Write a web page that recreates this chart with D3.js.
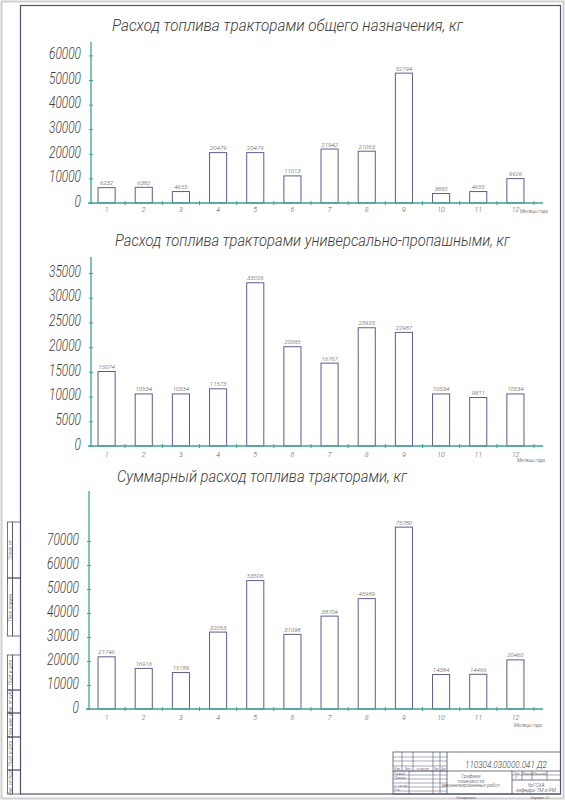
<!DOCTYPE html>
<html>
<head>
<meta charset="utf-8">
<script src="https://cdn.jsdelivr.net/npm/d3@7"></script>
<style>
  body { margin: 0; background: #fff; }
  svg text { font-family: "Liberation Sans Narrow", Roboto, "DejaVu Sans Condensed", sans-serif; font-style: italic; font-weight: 300; fill: #3a3a3a; }
</style>
</head>
<body>
<svg id="sheet" width="565" height="800"></svg>
<script>
// месяцы года
var months = ["1", "2", "3", "4", "5", "6", "7", "8", "9", "10", "11", "12"];

// расход топлива, кг (подписи над столбцами)
var generalFuel   = [6232, 6382, 4655, 20479, 20479, 11013, 21942, 21063, 52794, 3850, 4655, 9926];
var universalFuel = [15074, 10534, 10534, 11573, 33026, 20085, 16767, 23925, 22987, 10534, 9811, 10534];
var totalFuel     = [21746, 16916, 15189, 32053, 53506, 31098, 38704, 45989, 75780, 14384, 14466, 20460];

// деления осей
var generalTicks   = [0, 10000, 20000, 30000, 40000, 50000, 60000];
var universalTicks = [0, 5000, 10000, 15000, 20000, 25000, 30000, 35000];
var totalTicks     = [0, 10000, 20000, 30000, 40000, 50000, 60000, 70000];

var axisColor = "#3aa596";
var barColor = "#5d5d92";
var frameColor = "#4f5270";

var svg = d3.select("#sheet");

// рамка листа
svg.append("rect").attr("x", 1.5).attr("y", 1.5).attr("width", 562).attr("height", 797)
  .attr("fill", "none").attr("stroke", "#cfcfcf").attr("stroke-width", 2);
svg.append("rect").attr("x", 20.5).attr("y", 5.5).attr("width", 540).attr("height", 788.5)
  .attr("fill", "none").attr("stroke", frameColor).attr("stroke-width", 1.2);

function drawChart(c) {
  var g = svg.append("g");

  var x = d3.scaleBand().domain(months).range([88, 534]).paddingInner(0.54).paddingOuter(0.27);
  var y = d3.scaleLinear().domain([0, d3.max(c.ticks)]).range([c.base, c.top]);

  // заголовок
  g.append("text")
    .attr("x", c.titleX).attr("y", c.titleY)
    .attr("textLength", c.titleLen).attr("lengthAdjust", "spacingAndGlyphs")
    .style("font-size", "17px")
    .text(c.title);

  // столбцы
  g.selectAll("rect.bar").data(c.values).enter().append("rect")
    .attr("class", "bar")
    .attr("x", function(d, i) { return x(months[i]); })
    .attr("y", function(d) { return y(d); })
    .attr("width", x.bandwidth())
    .attr("height", function(d) { return c.base - y(d); })
    .attr("fill", "#fff")
    .attr("stroke", barColor)
    .attr("stroke-width", 1);

  g.selectAll("text.val").data(c.values).enter().append("text")
    .attr("class", "val")
    .attr("x", function(d, i) { return x(months[i]) + x.bandwidth() / 2; })
    .attr("y", function(d) { return y(d) - 2.5; })
    .attr("text-anchor", "middle")
    .attr("textLength", function(d) { return String(d).length * 3.3; })
    .attr("lengthAdjust", "spacingAndGlyphs")
    .style("font-size", "6px")
    .style("fill", "#555")
    .text(function(d) { return d; });

  // ось Y
  var yAxis = g.append("g")
    .attr("transform", "translate(" + c.axisX + ",0)")
    .call(d3.axisLeft(y).tickValues(c.ticks).tickSize(0).tickPadding(10).tickFormat(d3.format("d")));
  yAxis.select(".domain").remove();
  yAxis.selectAll("text")
    .attr("dy", "0.2em")
    .attr("textLength", function(d) { return String(d).length * 6.4; })
    .attr("lengthAdjust", "spacingAndGlyphs")
    .style("font-size", "16px")
    .attr("fill", null);
  yAxis.selectAll(".tick line").attr("x1", -2).attr("x2", 2).attr("stroke", axisColor);

  g.append("line")
    .attr("x1", c.axisX).attr("x2", c.axisX).attr("y1", c.axisTop).attr("y2", c.base + 1)
    .attr("stroke", axisColor).attr("stroke-width", 1.3);

  // ось X
  var xAxis = g.append("g")
    .attr("transform", "translate(0," + c.base + ")")
    .call(d3.axisBottom(x).tickSize(0).tickPadding(c.labelPad));
  xAxis.select(".domain").remove();
  xAxis.selectAll("text").style("font-size", "7px").style("fill", "#555").attr("fill", null);

  g.append("line")
    .attr("x1", c.axisX - 3).attr("x2", 543).attr("y1", c.base).attr("y2", c.base)
    .attr("stroke", axisColor).attr("stroke-width", 1.3);

  var gap = x.step() * x.paddingInner() / 2;
  g.selectAll("line.xt").data(months).enter().append("line")
    .attr("class", "xt")
    .attr("x1", function(d) { return x(d) + x.bandwidth() + gap; })
    .attr("x2", function(d) { return x(d) + x.bandwidth() + gap; })
    .attr("y1", c.base - 2).attr("y2", c.base + 2)
    .attr("stroke", axisColor);

  g.append("text")
    .attr("x", c.unitX).attr("y", c.base + c.unitDy)
    .attr("textLength", 28).attr("lengthAdjust", "spacingAndGlyphs")
    .style("font-size", "5.5px")
    .text("Месяцы года");
}

drawChart({
  title: "Расход топлива тракторами общего назначения, кг",
  values: generalFuel, ticks: generalTicks,
  base: 203, top: 55.4, axisTop: 42, axisX: 91,
  titleX: 112, titleY: 31, titleLen: 351,
  labelPad: 4, unitX: 520, unitDy: 10
});

drawChart({
  title: "Расход топлива тракторами универсально-пропашными, кг",
  values: universalFuel, ticks: universalTicks,
  base: 446, top: 273, axisTop: 257, axisX: 91,
  titleX: 115, titleY: 246, titleLen: 395,
  labelPad: 6, unitX: 517, unitDy: 16
});

drawChart({
  title: "Суммарный расход топлива тракторами, кг",
  values: totalFuel, ticks: totalTicks,
  base: 709, top: 541, axisTop: 491, axisX: 89,
  titleX: 117, titleY: 482, titleLen: 290,
  labelPad: 6, unitX: 514, unitDy: 18
});

// боковые графы
function cell(x0, y0, w, h) {
  svg.append("rect").attr("x", x0).attr("y", y0).attr("width", w).attr("height", h)
    .attr("fill", "none").attr("stroke", frameColor).attr("stroke-width", 0.8);
}
function vtext(cx, cy, t) {
  svg.append("text")
    .attr("transform", "translate(" + cx + "," + cy + ") rotate(-90)")
    .attr("text-anchor", "middle")
    .style("font-size", "4.5px")
    .text(t);
}
var sideCells = [
  [522, 578, "Справ. №"], [578, 636, "Перв. примен."],
  [655, 690, "Подп. и дата"], [690, 713, "Инв. № дубл."], [713, 737, "Взам. инв. №"],
  [737, 770, "Подп. и дата"], [770, 794, "Инв. № подл."]
];
sideCells.forEach(function(s) {
  cell(7.5, s[0], 5, s[1] - s[0]);
  cell(12.5, s[0], 8, s[1] - s[0]);
  vtext(11.5, (s[0] + s[1]) / 2, s[2]);
});

// основная надпись
var tb = svg.append("g").attr("stroke", frameColor).attr("stroke-width", 0.8).attr("fill", "none");
tb.append("rect").attr("x", 393).attr("y", 752).attr("width", 167.5).attr("height", 42);
[757, 761, 766, 771, 775, 779, 783, 787, 791].forEach(function(yy) {
  tb.append("line").attr("x1", 393).attr("x2", 447).attr("y1", yy).attr("y2", yy).attr("stroke-width", 0.5);
});
[402, 413, 433, 440].forEach(function(xx) {
  tb.append("line").attr("x1", xx).attr("x2", xx).attr("y1", 752).attr("y2", 771).attr("stroke-width", 0.6);
});
[409, 433, 440].forEach(function(xx) {
  tb.append("line").attr("x1", xx).attr("x2", xx).attr("y1", 771).attr("y2", 794).attr("stroke-width", 0.6);
});
tb.append("line").attr("x1", 447).attr("x2", 447).attr("y1", 752).attr("y2", 794);
tb.append("line").attr("x1", 393).attr("x2", 560).attr("y1", 771).attr("y2", 771);
tb.append("line").attr("x1", 512).attr("x2", 512).attr("y1", 771).attr("y2", 794);
tb.append("line").attr("x1", 512).attr("x2", 560).attr("y1", 775).attr("y2", 775).attr("stroke-width", 0.5);
tb.append("line").attr("x1", 512).attr("x2", 560).attr("y1", 780).attr("y2", 780);
[522, 532, 547].forEach(function(xx) {
  tb.append("line").attr("x1", xx).attr("x2", xx).attr("y1", 771).attr("y2", 780).attr("stroke-width", 0.6);
});

function tbText(x0, y0, size, t, anchor, len) {
  var s = svg.append("text").attr("x", x0).attr("y", y0)
    .attr("text-anchor", anchor || "start")
    .style("font-size", size + "px")
    .text(t);
  if (len) s.attr("textLength", len).attr("lengthAdjust", "spacingAndGlyphs");
}
tbText(506, 768, 9.5, "110304.030000.041 Д2", "middle", 82);
tbText(397.5, 770, 3, "Изм.", "middle");
tbText(407.5, 770, 3, "Лист", "middle");
tbText(423, 770, 3, "№ докум.", "middle");
tbText(436.5, 770, 3, "Подп.", "middle", 5.5);
tbText(443.5, 770, 3, "Дата", "middle", 5);
tbText(394, 774.5, 3.5, "Разраб.");
tbText(394, 778.5, 3.5, "Провер.");
tbText(394, 786.5, 3.5, "Н. контр.");
tbText(394, 790.5, 3.5, "Утв.");
tbText(471, 778, 5, "Графики", "middle");
tbText(471, 782.5, 5, "плановости", "middle");
tbText(471, 787, 5, "механизированных работ", "middle");
tbText(517, 774.5, 3.5, "Лит.", "middle");
tbText(527, 774.5, 3.5, "Масса", "middle");
tbText(539.5, 774.5, 3.5, "Масштаб", "middle");
tbText(516, 778.8, 3.5, "У", "middle");
tbText(536, 787, 5, "УрГСХА", "middle");
tbText(536, 792, 5, "кафедра  ТМ и РМ", "middle");
tbText(466, 798.5, 4, "Копировал", "middle");
tbText(540, 798.5, 4, "Формат   А1", "middle");
</script>
</body>
</html>
